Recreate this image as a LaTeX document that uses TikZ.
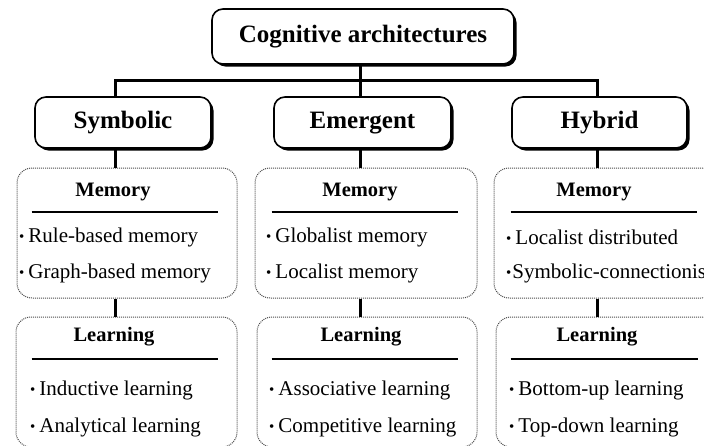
\documentclass[tikz,border=0pt]{standalone}
\usepackage{fontspec}
\setmainfont{Liberation Serif}
\usetikzlibrary{shadows,calc}
\newcommand\bul{{\fontsize{15}{15}\selectfont\raisebox{0.5pt}{•}}\hspace{4pt}}
\begin{document}
\begin{tikzpicture}[x=1pt,y=-1pt,
  mainbox/.style={draw, line width=1.6pt, rounded corners=11pt, fill=white, inner sep=0pt,
    text height=17pt, text depth=5pt,
    drop shadow={shadow xshift=2.5pt,shadow yshift=-2.5pt,fill=black,opacity=1},
    font=\fontsize{25}{30}\selectfont\bfseries},
  dotbox/.style={draw=black!70, densely dotted, line width=1pt, rounded corners=15pt, inner sep=0pt},
  hdr/.style={inner sep=0pt, font=\fontsize{20.5}{24}\selectfont\bfseries},
  item/.style={inner sep=0pt, anchor=west, font=\fontsize{21}{24}\selectfont},
  rulebar/.style={line width=2pt},
  conn/.style={line width=3pt}
]
\useasboundingbox (0,0) rectangle (704,445);
\clip (0,0) rectangle (704,445);

% connectors junctions
\coordinate (jl) at (115,80);
\coordinate (jm) at (360,80);
\coordinate (jr) at (597,80);

% top-level boxes
\node[mainbox, minimum width=302pt, minimum height=55pt] (top) at (363,36.5) {Cognitive architectures};
\node[mainbox, minimum width=176pt, minimum height=51pt] (sym) at (123,122.5) {Symbolic};
\node[mainbox, minimum width=177pt, minimum height=51pt] (emg) at (362.5,122.5) {Emergent};
\node[mainbox, minimum width=175pt, minimum height=51pt] (hyb) at (599.5,122.5) {Hybrid};

% memory boxes
\node[dotbox, minimum width=220pt, minimum height=130pt] (smem) at (127,233) {};
\node[dotbox, minimum width=222pt, minimum height=130pt] (emem) at (366,233) {};
\node[dotbox, minimum width=222pt, minimum height=130pt] (hmem) at (605,233) {};
% learning boxes
\node[dotbox, minimum width=221pt, minimum height=130pt] (slrn) at (126.5,382) {};
\node[dotbox, minimum width=220pt, minimum height=130pt] (elrn) at (367,382) {};
\node[dotbox, minimum width=220pt, minimum height=130pt] (hlrn) at (606,382) {};

% connectors
\draw[conn] (top.south -| jm) -- (jm);
\draw[conn, line join=miter] (sym.north -| jl) -- (jl) -- (jr) -- (hyb.north -| jr);
\draw[conn] (jm) -- (emg.north -| jm);
\draw[conn] (sym.south -| jl) -- (smem.north -| jl);
\draw[conn] (emg.south -| jm) -- (emem.north -| jm);
\draw[conn] (hyb.south -| jr) -- (hmem.north -| jr);
\draw[conn] (smem.south -| jl) -- (slrn.north -| jl);
\draw[conn] (emem.south -| jm) -- (elrn.north -| jm);
\draw[conn] (hmem.south -| jr) -- (hlrn.north -| jr);

% memory headers
\node[hdr] (smemh) at (113,192) {Memory};
\node[hdr] (ememh) at (360,192) {Memory};
\node[hdr] (hmemh) at (594,192) {Memory};
\draw[rulebar] ($(smem.north west)+(15,44)$) -- ($(smem.north east)+(-20,44)$);
\draw[rulebar] ($(emem.north west)+(17,44)$) -- ($(emem.north east)+(-20,44)$);
\draw[rulebar] ($(hmem.north west)+(17,44)$) -- ($(hmem.north east)+(-20,44)$);

% learning headers
\node[hdr] (slrnh) at (114,337) {Learning};
\node[hdr] (elrnh) at (361,337) {Learning};
\node[hdr] (hlrnh) at (597,337) {Learning};
\draw[rulebar] ($(slrn.north west)+(16,42)$) -- ($(slrn.north east)+(-20,42)$);
\draw[rulebar] ($(elrn.north west)+(15,42)$) -- ($(elrn.north east)+(-20,42)$);
\draw[rulebar] ($(hlrn.north west)+(15,42)$) -- ($(hlrn.north east)+(-19,42)$);

% memory items
\node[item] (sm1) at (19,237) {\bul Rule-based memory};
\node[item] (sm2) at (19,273) {\bul Graph-based memory};
\node[item] (em1) at (266,237) {\bul Globalist memory};
\node[item] (em2) at (266,273) {\bul Localist memory};
\node[item] (hm1) at (506,237) {\bul Localist distributed};
\node[item] (hm2) at (506,273) {\bul\hspace{-3pt}Symbolic-connectionist};

% learning items
\node[item] (sl1) at (30,390) {\bul Inductive learning};
\node[item] (sl2) at (30,427) {\bul Analytical learning};
\node[item] (el1) at (269,390) {\bul Associative learning};
\node[item] (el2) at (269,427) {\bul Competitive learning};
\node[item] (hl1) at (509,390) {\bul Bottom-up learning};
\node[item] (hl2) at (509,427) {\bul Top-down learning};
\end{tikzpicture}
\end{document}
